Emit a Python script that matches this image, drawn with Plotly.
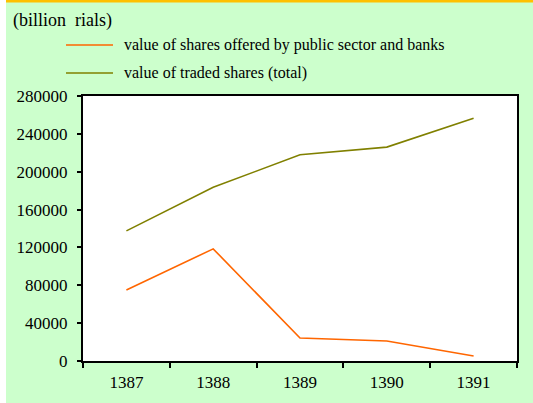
import plotly.graph_objects as go

years = ["1387", "1388", "1389", "1390", "1391"]
public_sector = [75000, 118500, 24300, 21100, 5300]
traded_total = [137500, 183500, 218000, 226000, 256500]
series_names = ["value of shares offered by public sector and banks",
                "value of traded shares (total)"]
series_colors = ["#FF6600", "#808000"]
y_ticks = [0, 40000, 80000, 120000, 160000, 200000, 240000, 280000]

W, H = 533, 403
L, R, T, B = 83, 16, 96, 42
pw, ph = W - L - R, H - T - B

def px(x):
    return (x - L) / pw

def py(y):
    return (H - B - y) / ph

fig = go.Figure()
for vals, name, col in zip([public_sector, traded_total], series_names, series_colors):
    fig.add_trace(go.Scatter(x=years, y=vals, mode="lines", name=name,
                             line=dict(color=col, width=1.6), showlegend=False,
                             hoverinfo="skip"))

serif = "Liberation Serif"
shapes = [
    dict(type="rect", xref="paper", yref="paper", x0=px(0), x1=px(6), y0=py(H), y1=py(0),
         fillcolor="white", line=dict(width=0), layer="below"),
    dict(type="rect", xref="paper", yref="paper", x0=px(6), x1=px(W), y0=py(2.5), y1=py(0),
         fillcolor="#FFC000", line=dict(width=0), layer="below"),
]
annotations = [
    dict(text="(billion  rials)", xref="paper", yref="paper", x=px(11), y=py(20),
         xanchor="left", yanchor="middle", showarrow=False,
         font=dict(family=serif, size=18, color="black")),
]
for i, (name, col) in enumerate(zip(series_names, series_colors)):
    yy = 45 + i * 28
    shapes.append(dict(type="line", xref="paper", yref="paper", x0=px(66), x1=px(113),
                       y0=py(yy), y1=py(yy), line=dict(color=col, width=1.6)))
    annotations.append(dict(text=name, xref="paper", yref="paper", x=px(122), y=py(yy),
                            xanchor="left", yanchor="middle", showarrow=False,
                            font=dict(family=serif, size=16, color="black")))

fig.update_layout(
    width=W, height=H,
    margin=dict(l=L, r=R, t=T, b=B, pad=0),
    paper_bgcolor="#CCFFCC", plot_bgcolor="white",
    shapes=shapes, annotations=annotations,
    font=dict(family=serif, size=17, color="black"),
    xaxis=dict(type="category", range=[-0.5, 4.5], tickson="boundaries", ticks="outside",
               ticklen=5, tickwidth=1.5, tickcolor="black", showgrid=False,
               showline=True, linecolor="black", linewidth=2, mirror=True,
               ticklabelstandoff=5,
               tickfont=dict(family=serif, size=17, color="black")),
    yaxis=dict(range=[0, 280000], tickvals=y_ticks, tickformat="d", ticks="outside",
               ticklen=4, tickwidth=1.5, tickcolor="black", showgrid=False, zeroline=False,
               showline=True, linecolor="black", linewidth=2, mirror=True,
               ticklabelstandoff=6,
               tickfont=dict(family=serif, size=17, color="black")),
)

fig.write_html("out.html", config={"displayModeBar": False},
               post_script="document.body.style.margin='0';document.body.style.overflow='hidden';")
